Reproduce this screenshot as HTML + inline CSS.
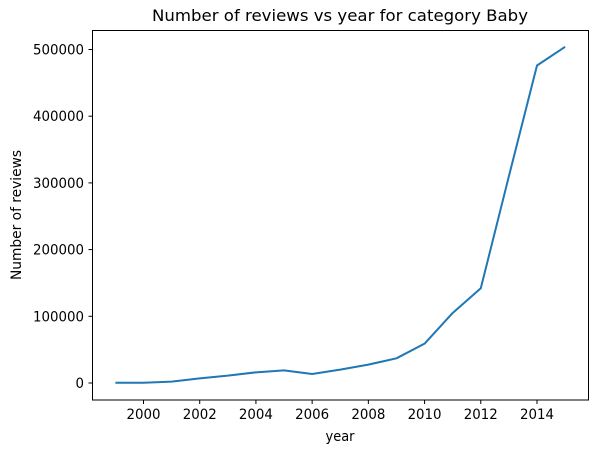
<!DOCTYPE html>
<html><head><meta charset="utf-8"><style>
body{margin:0;background:#fff;}
svg{display:block;font-family:"DejaVu Sans","Liberation Sans",sans-serif;}
</style></head><body>
<svg id="chart" width="601" height="453">
<text x="340" y="21" text-anchor="middle" font-size="16" fill="#000" textLength="376" lengthAdjust="spacingAndGlyphs">Number of reviews vs year for category Baby</text>
<text x="340" y="441" text-anchor="middle" font-size="14" textLength="29" lengthAdjust="spacingAndGlyphs">year</text>
<text transform="translate(21,215) rotate(-90)" text-anchor="middle" font-size="14" textLength="130" lengthAdjust="spacingAndGlyphs">Number of reviews</text>
<g id="axes"></g>
<rect x="92.5" y="30.5" width="496" height="369.5" fill="none" stroke="#000" stroke-width="1"/>
</svg>
<script>
const years=[1999,2000,2001,2002,2003,2004,2005,2006,2007,2008,2009,2010,2011,2012,2013,2014,2015];
const reviews=[300,300,2000,7000,11000,16000,19000,13500,20000,27500,37000,59000,105000,142000,310000,476000,504000];
const xTicks=[2000,2002,2004,2006,2008,2010,2012,2014];
const yTicks=[0,100000,200000,300000,400000,500000];
const NS="http://www.w3.org/2000/svg";
const g=document.getElementById('axes');
function xs(v){return 143.5+(v-2000)*(537-143.5)/14;}
function ys(v){return 383-v*(383-49.5)/500000;}
function mk(t,a){const e=document.createElementNS(NS,t);for(const k in a)e.setAttribute(k,a[k]);g.appendChild(e);return e;}
xTicks.forEach(t=>{
 const l=mk('line',{x1:xs(t),x2:xs(t),y1:400,y2:404,stroke:'#000'});
 
 
 const tx=mk('text',{x:xs(t),y:419,'text-anchor':'middle','font-size':14,textLength:34,lengthAdjust:'spacingAndGlyphs'});
 tx.textContent=t;
 
 
});
yTicks.forEach(t=>{
 const l=mk('line',{x1:88.5,x2:92.5,y1:ys(t),y2:ys(t),stroke:'#000'});
 
 
 const s=String(t);
 const tx=mk('text',{x:84,y:ys(t)+5,'text-anchor':'end','font-size':14,textLength:s.length*8.5,lengthAdjust:'spacingAndGlyphs'});
 tx.textContent=t;
 
 
});
const pts=years.map((y,i)=>xs(y)+','+ys(reviews[i])).join(' ');
const line=mk('polyline',{points:pts,fill:'none',stroke:'#1f77b4','stroke-width':2,'stroke-linejoin':'round'});


</script>
</body></html>
